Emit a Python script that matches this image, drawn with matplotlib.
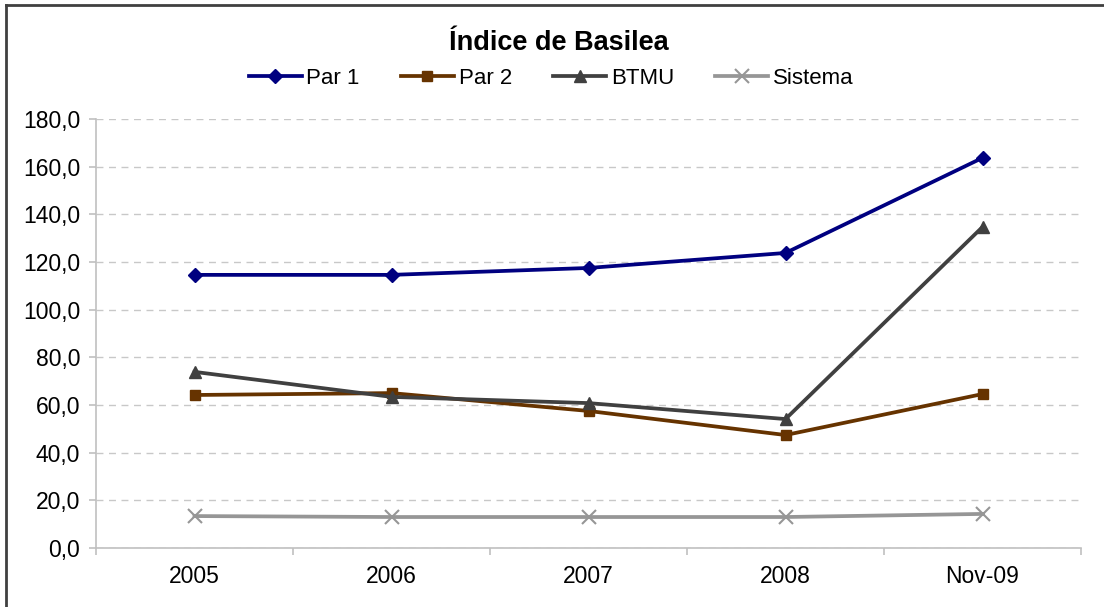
import matplotlib
matplotlib.use("Agg")
import matplotlib.pyplot as plt
from matplotlib.ticker import FixedLocator, FuncFormatter
from matplotlib.lines import Line2D

categories = ["2005", "2006", "2007", "2008", "Nov-09"]
par1 = [114.6, 114.6, 117.5, 123.8, 163.7]
par2 = [64.2, 65.0, 57.5, 47.4, 64.6]
btmu = [73.9, 63.4, 60.8, 54.1, 134.7]
sistema = [13.4, 13.0, 13.0, 13.0, 14.3]
series_names = ["Par 1", "Par 2", "BTMU", "Sistema"]
yticks = [0, 20, 40, 60, 80, 100, 120, 140, 160, 180]

plt.rcParams['font.family'] = ['Liberation Sans', 'DejaVu Sans']

fig = plt.figure(figsize=(11.04, 6.07), dpi=100)
ax = fig.add_axes([96/1104, 1-548/607, (1081-96)/1104, (548-119)/607])

x = list(range(len(categories)))
styles = [
    (par1, "#000080", "D", 7),
    (par2, "#663300", "s", 7),
    (btmu, "#404040", "^", 9),
    (sistema, "#969696", "x", 10),
]
for (vals, col, mk, ms), name in zip(styles, series_names):
    ax.plot(x, vals, color=col, lw=2.7, marker=mk, markersize=ms,
            markerfacecolor=col, markeredgecolor=col,
            markeredgewidth=1.5 if mk == "x" else 1,
            label=name, solid_joinstyle="round")

ax.set_xlim(-0.5, len(categories) - 0.5)
ax.set_ylim(0, 180)
ax.set_yticks(yticks)
ax.yaxis.set_major_formatter(FuncFormatter(lambda v, p: f"{v:.1f}".replace(".", ",")))
ax.set_xticks(x)
ax.set_xticklabels(categories)
ax.xaxis.set_minor_locator(FixedLocator([i - 0.5 for i in range(len(categories) + 1)]))
ax.tick_params(axis="x", which="major", length=0, pad=12, labelsize=16.5, colors="#000000")
ax.tick_params(axis="x", which="minor", length=5, color="#c0c0c0", width=1.2)
ax.tick_params(axis="y", length=5, color="#c0c0c0", width=1.2, labelsize=16.5, pad=6.5,
               labelcolor="#000000")

ax.grid(axis="y", color="#c8c8c8", linestyle=(0, (5, 4)), lw=1)
ax.set_axisbelow(True)
for s in ["top", "right"]:
    ax.spines[s].set_visible(False)
for s in ["left", "bottom"]:
    ax.spines[s].set_color("#c0c0c0")
    ax.spines[s].set_linewidth(1.2)

fig.text(559/1104, 1-43/607, "Índice de Basilea", ha="center", va="center",
         fontsize=19.5, fontweight="bold")

leg = fig.legend(loc="center", bbox_to_anchor=(551/1104, 1-78/607), ncol=4,
                 frameon=False, fontsize=16, handlelength=2.4, columnspacing=1.85,
                 handletextpad=0.2)

# outer border (top and left visible)
fig.add_artist(Line2D([6/1104, 6/1104], [0, 1-5/607], color="#404040", lw=2, transform=fig.transFigure))
fig.add_artist(Line2D([6/1104, 1], [1-5/607, 1-5/607], color="#404040", lw=2, transform=fig.transFigure))

fig.savefig("out.png", dpi=100)
